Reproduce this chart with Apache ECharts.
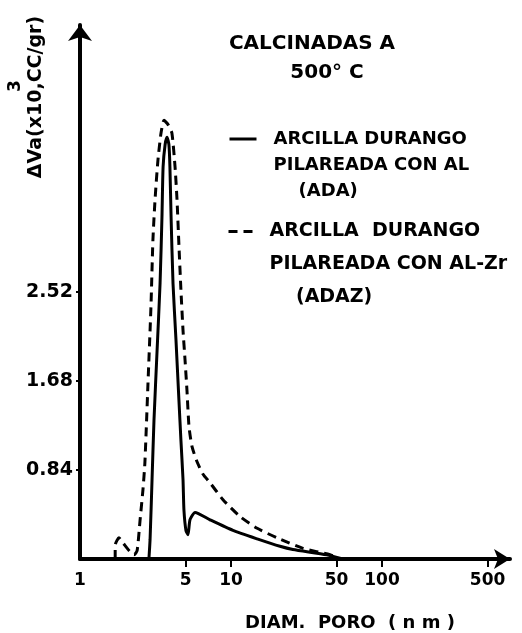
<!DOCTYPE html>
<html>
<head>
<meta charset="utf-8">
<script src="https://cdn.jsdelivr.net/npm/echarts@6/dist/echarts.min.js"></script>
<style>
html,body{margin:0;padding:0;background:#fff;}
#chart{width:522px;height:633px;}
</style>
</head>
<body>
<div id="chart"></div>
<script>
// pore diameter (nm) / volume increment
var adaDiam = [2.86, 2.91, 3.00, 3.09, 3.24, 3.39, 3.49, 3.55, 3.66, 3.77, 3.88, 3.94, 4.01, 4.13, 4.32, 4.52, 4.66, 4.81, 4.88, 5.03, 5.19, 5.35, 5.78, 7.26, 10.3, 14.9, 21.1, 25.7, 43, 55];
var adaVol  = [0, 0.18, 0.75, 1.31, 1.97, 2.60, 3.23, 3.70, 3.91, 3.98, 3.91, 3.70, 3.23, 2.60, 2.07, 1.50, 1.12, 0.75, 0.46, 0.27, 0.23, 0.37, 0.44, 0.37, 0.27, 0.19, 0.12, 0.09, 0.04, 0];

var adazDiam = [1.71, 1.71, 1.81, 1.93, 2.14, 2.28, 2.39, 2.50, 2.61, 2.69, 2.82, 2.95, 3.04, 3.14, 3.28, 3.44, 3.60, 3.83, 4.06, 4.26, 4.39, 4.52, 4.66, 4.81, 4.96, 5.11, 5.27, 5.52, 5.95, 6.53, 7.26, 8.85, 11.5, 14.9, 20.2, 30.0, 45.3, 52.7];
var adazVol  = [0, 0.13, 0.20, 0.15, 0.07, 0.04, 0.08, 0.37, 0.65, 0.91, 1.66, 2.38, 3.01, 3.39, 3.76, 4.02, 4.14, 4.10, 4.02, 3.70, 3.39, 2.96, 2.54, 2.16, 1.88, 1.59, 1.25, 1.06, 0.92, 0.80, 0.72, 0.56, 0.40, 0.29, 0.20, 0.10, 0.04, 0];

var diamTicks = [1, 5, 10, 50, 100, 500];
var volTicks = [0.84, 1.68, 2.52];

var FONT = 'DejaVu Sans';
var DASH = [9, 6];

function pairs(xs, ys){
	var out = [];
	for(var i = 0; i < xs.length; i++) out.push([xs[i], ys[i]]);
	return out;
}

var chart = echarts.init(document.getElementById('chart'), null, {renderer:'canvas'});

var titleFont = {fontFamily: FONT, fontWeight: 'bold', fontSize: 20, lineHeight: 26, color: '#000'};

var option = {
	animation: false,
	backgroundColor: '#fff',
	textStyle: {fontFamily: FONT, fontWeight: 'bold', color: '#000'},
	title: [
		{text: 'CALCINADAS A', left: 307, top: 26, textAlign: 'center', textStyle: titleFont},
		{text: '500° C', left: 322, top: 55, textAlign: 'center', textStyle: titleFont}
	],
	legend: [{
		data: [{name: 'ADA', icon: 'line', itemStyle: {color: '#000', borderColor: '#000', borderWidth: 3, borderType: 'solid'}}],
		orient: 'vertical',
		left: 223, top: 69,
		itemWidth: 27, itemHeight: 14,
		selectedMode: false,
		// two empty lines so the first text line sits beside the icon
		formatter: function(){ return '\n\nARCILLA DURANGO\nPILAREADA CON AL\n    (ADA)'; },
		textStyle: {fontFamily: FONT, fontWeight: 'bold', fontSize: 18, lineHeight: 26, color: '#000', padding: [0, 0, 0, 12]}
	}, {
		data: [{name: 'ADAZ', icon: 'line', itemStyle: {color: '#000', borderColor: '#000', borderWidth: 3, borderType: DASH}}],
		orient: 'vertical',
		left: 222, top: 144,
		itemWidth: 27, itemHeight: 14,
		selectedMode: false,
		formatter: function(){ return '\n\nARCILLA  DURANGO\nPILAREADA CON AL-Zr\n    (ADAZ)'; },
		textStyle: {fontFamily: FONT, fontWeight: 'bold', fontSize: 19, lineHeight: 33, color: '#000', padding: [0, 0, 0, 9]}
	}],
	grid: {left: 80, right: 12, top: 25, bottom: 74, containLabel: false, outerBoundsMode: 'none'},
	xAxis: {
		type: 'log',
		logBase: 10,
		min: 1, max: 704,
		name: 'DIAM.  PORO  ( n m )',
		nameLocation: 'middle',
		nameGap: 55,
		nameTextStyle: {fontFamily: FONT, fontWeight: 'bold', fontSize: 18, color: '#000', padding: [0, 0, 0, 110]},
		axisLine: {lineStyle: {color: '#000', width: 4}, symbol: ['none', 'arrow'], symbolSize: [15, 16]},
		axisTick: {show: true, inside: false, length: 8, lineStyle: {color: '#000', width: 2}, customValues: diamTicks.slice(1)},
		minorTick: {show: false},
		splitLine: {show: false},
		axisLabel: {
			customValues: diamTicks,
			margin: 13,
			fontFamily: FONT, fontWeight: 'bold', fontSize: 17, color: '#000',
			formatter: function(v){ return String(Math.round(v)); }
		}
	},
	yAxis: {
		type: 'value',
		min: 0, max: 5.04,
		axisLine: {show: true, lineStyle: {color: '#000', width: 4}, symbol: ['none', 'arrow'], symbolSize: [18, 16]},
		axisTick: {show: true, length: 4, lineStyle: {color: '#000', width: 2}, customValues: volTicks},
		splitLine: {show: false},
		axisLabel: {
			customValues: volTicks,
			margin: 7,
			fontFamily: FONT, fontWeight: 'bold', fontSize: 19, color: '#000',
			formatter: function(v){ return v.toFixed(2); }
		}
	},
	graphic: [{
		type: 'text',
		x: 36, y: 97,
		rotation: Math.PI / 2,
		style: {text: 'ΔVa(x10,CC/gr)', font: 'bold 19px "DejaVu Sans"', fill: '#000', align: 'center', verticalAlign: 'middle'}
	}, {
		type: 'text',
		x: 16, y: 86,
		rotation: Math.PI / 2,
		style: {text: '3', font: 'bold 17px "DejaVu Sans"', fill: '#000', align: 'center', verticalAlign: 'middle'}
	}],
	series: [{
		name: 'ADA',
		type: 'line',
		data: pairs(adaDiam, adaVol),
		symbol: 'none',
		smooth: 0.2,
		color: '#000',
		lineStyle: {color: '#000', width: 3, type: 'solid'}
	}, {
		name: 'ADAZ',
		type: 'line',
		data: pairs(adazDiam, adazVol),
		symbol: 'none',
		smooth: 0.2,
		color: '#000',
		lineStyle: {color: '#000', width: 3, type: DASH}
	}]
};

chart.setOption(option);
</script>
</body>
</html>
